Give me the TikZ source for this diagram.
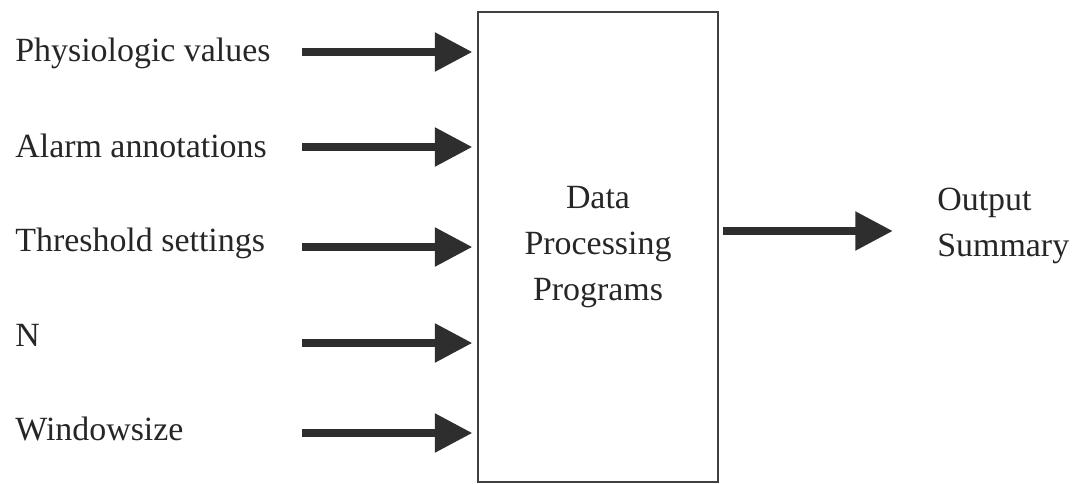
\documentclass[tikz,border=0pt]{standalone}
\usepackage{fontspec}
\setmainfont{Liberation Serif}
\usetikzlibrary{arrows.meta}

\begin{document}
\begin{tikzpicture}[
  x=0.02cm, y=-0.02cm,
  label/.style={anchor=base west,inner sep=0pt,text=black!85,font=\fontsize{19.3}{26}\selectfont},
  program/.style={draw=black!75,line width=1.2pt,minimum width=4.8cm,minimum height=9.4cm,
    align=center,text=black!85,font=\fontsize{19.3}{26}\selectfont},
  flow/.style={-{Triangle[length=21.5pt,width=21pt]},line width=5pt,draw=black!82}
]
  \useasboundingbox (0,0) rectangle (1077,483);

  \node[program] (dpp) at (598,247) {Data\\Processing\\Programs};

  \node[label] (phys) at (15,62) {Physiologic values};
  \node[label] (alarm) at (15,157) {Alarm annotations};
  \node[label] (thresh) at (15,251) {Threshold settings};
  \node[label] (n) at (15,346) {N};
  \node[label] (win) at (15,440) {Windowsize};

  \coordinate (s1) at (302,52);
  \coordinate (s2) at (302,147);
  \coordinate (s3) at (302,247);
  \coordinate (s4) at (302,343);
  \coordinate (s5) at (302,433);
  \foreach \i in {1,...,5}
    \draw[flow] (s\i) -- ([xshift=-2.5pt]s\i -| dpp.west);

  \node[label,align=left,anchor=west] (out) at (937,226) {Output\\Summary};
  \coordinate (o) at (723,231);
  \draw[flow] (o) -- ([xshift=-0.88cm]out.west |- o);
\end{tikzpicture}
\end{document}
